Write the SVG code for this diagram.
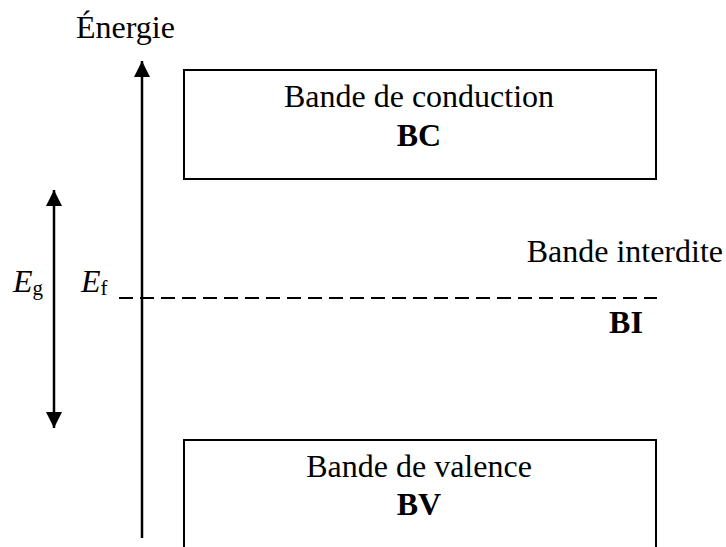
<svg xmlns="http://www.w3.org/2000/svg" width="726" height="547" viewBox="0 0 726 547">
<defs>
<marker id="ah" viewBox="0 0 16 16" refX="16" refY="8" markerWidth="16" markerHeight="16" markerUnits="userSpaceOnUse" orient="auto">
<path d="M0,0 L16,8 L0,16 Z" fill="#000"/>
</marker>
</defs>
<style>
.t{font-family:"Liberation Serif","Times New Roman",serif;font-size:32px;fill:#000}
.b{font-weight:bold}
.i{font-style:italic}
.sub{font-size:21px}
.box{fill:#fff;stroke:#000;stroke-width:2}
.ln{stroke:#000;stroke-width:2.5;fill:none}
</style>
<rect width="726" height="547" fill="#fff"/>
<g id="connectors">
<line class="ln" x1="142" y1="538" x2="142" y2="61" marker-end="url(#ah)"/>
<line class="ln" x1="54" y1="300" x2="54" y2="190" marker-end="url(#ah)"/>
<line class="ln" x1="54" y1="300" x2="54" y2="428" marker-end="url(#ah)"/>
<line x1="119" y1="298" x2="657" y2="298" stroke="#000" stroke-width="2" stroke-dasharray="14 7"/>
</g>
<g id="axis-label"><text class="t" x="76" y="38">Énergie</text></g>
<g id="BC">
<rect class="box" x="184" y="70" width="472" height="109"/>
<text class="t" x="419" y="107" text-anchor="middle">Bande de conduction</text>
<text class="t b" x="419" y="146" text-anchor="middle">BC</text>
</g>
<g id="BI">
<text class="t" x="723" y="262" text-anchor="end">Bande interdite</text>
<text class="t b" x="626" y="333" text-anchor="middle">BI</text>
</g>
<g id="BV">
<rect class="box" x="184" y="440" width="472" height="130"/>
<text class="t" x="419" y="477" text-anchor="middle">Bande de valence</text>
<text class="t b" x="419" y="515" text-anchor="middle">BV</text>
</g>
<g id="Eg"><text class="t i" x="13" y="292">E<tspan class="sub" font-style="normal" dy="3">g</tspan></text></g>
<g id="Ef"><text class="t i" x="81" y="292">E<tspan class="sub" font-style="normal" dy="3">f</tspan></text></g>
</svg>
